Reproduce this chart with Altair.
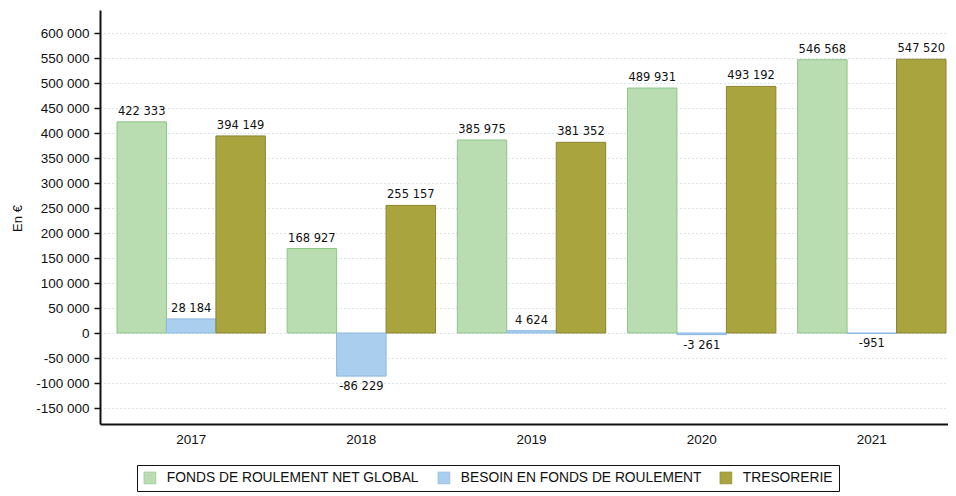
import altair as alt
import pandas as pd

years = ["2017", "2018", "2019", "2020", "2021"]
series = ["FONDS DE ROULEMENT NET GLOBAL", "BESOIN EN FONDS DE ROULEMENT", "TRESORERIE"]
frng = [422333, 168927, 385975, 489931, 546568]
bfr = [28184, -86229, 4624, -3261, -951]
treso = [394149, 255157, 381352, 493192, 547520]
y_ticks = [600000, 550000, 500000, 450000, 400000, 350000, 300000, 250000, 200000,
           150000, 100000, 50000, 0, -50000, -100000, -150000]

rows = []
for s, vals in zip(series, [frng, bfr, treso]):
    for yr, v in zip(years, vals):
        rows.append({"year": yr, "series": s, "value": v,
                     "label": f"{v:,}".replace(",", " ")})
df = pd.DataFrame(rows)

fill_colors = ["#b9dcb1", "#aacfee", "#aaa43f"]
stroke_colors = ["#8fc58a", "#8ab8e2", "#8a8430"]

x_scale = alt.Scale(paddingInner=0.128, paddingOuter=0.0558, align=0.895)
xoff_scale = alt.Scale(paddingInner=0, paddingOuter=0)
y_scale = alt.Scale(domain=[-182000, 646000], nice=False, zero=False)

x_axis = alt.Axis(labelAngle=0, ticks=False, domainColor="#111111", domainWidth=2,
                  labelFont="Liberation Sans", labelFontSize=13.5, labelColor="#111111",
                  labelPadding=8, grid=False)
y_axis = alt.Axis(values=y_ticks, domainColor="#111111", domainWidth=2,
                  tickColor="#111111", tickSize=6, tickWidth=1.5,
                  labelFont="Liberation Sans", labelFontSize=13.5, labelColor="#111111",
                  labelPadding=5, labelOverlap=False, labelBound=False,
                  labelExpr="replace(replace(format(datum.value, ','), ',', ' '), '\u2212', '-')",
                  titleFont="Liberation Sans", titleFontSize=13, titleFontWeight="normal",
                  titleColor="#111111", titleX=-83, titleY=208, titleAngle=270,
                  titleAlign="center", titleBaseline="middle",
                  grid=True, gridColor="#b4c6d8", gridDash=[1, 3], gridWidth=1)

x_enc = alt.X("year:N", title=None, sort=years, scale=x_scale, axis=x_axis)
xo_enc = alt.XOffset("series:N", sort=series, scale=xoff_scale)
y_enc = alt.Y("value:Q", scale=y_scale, title="En €", axis=y_axis)

bars = alt.Chart(df).mark_bar(strokeWidth=1, opacity=1).encode(
    x=x_enc,
    xOffset=xo_enc,
    y=y_enc,
    color=alt.Color("series:N", sort=series,
                    scale=alt.Scale(domain=series, range=fill_colors),
                    legend=alt.Legend(title=None, orient="none", direction="horizontal",
                                      legendX=37, legendY=455,
                                      symbolType="square", symbolSize=144,
                                      symbolStrokeColor="#9cbfa0", symbolStrokeWidth=0.5,
                                      labelFont="Liberation Sans", labelFontSize=13.8,
                                      labelLimit=0,
                                      labelColor="#111111", columnPadding=16, labelOffset=10,
                                      strokeColor="#111111", padding=6,
                                      fillColor="white")),
    stroke=alt.Stroke("series:N", sort=series,
                      scale=alt.Scale(domain=series, range=stroke_colors), legend=None),
)

text_pos = alt.Chart(df).transform_filter("datum.value >= 0").mark_text(
    baseline="bottom", dy=-5, font="DejaVu Sans", fontSize=11.5, color="#111111"
).encode(x=x_enc, xOffset=xo_enc, y=y_enc, text="label:N")

text_neg = alt.Chart(df).transform_filter("datum.value < 0").mark_text(
    baseline="top", dy=5, font="DejaVu Sans", fontSize=11.5, color="#111111"
).encode(x=x_enc, xOffset=xo_enc, y=y_enc, text="label:N")

chart = alt.layer(bars, text_pos, text_neg).properties(
    width=848, height=414,
    autosize=alt.AutoSizeParams(type="none"),
    padding={"left": 92, "top": 2, "right": 0, "bottom": 70},
).configure(background="white", view=alt.ViewConfig(stroke=None))

chart.save("out.html", embed_options={"renderer": "svg", "actions": False})
